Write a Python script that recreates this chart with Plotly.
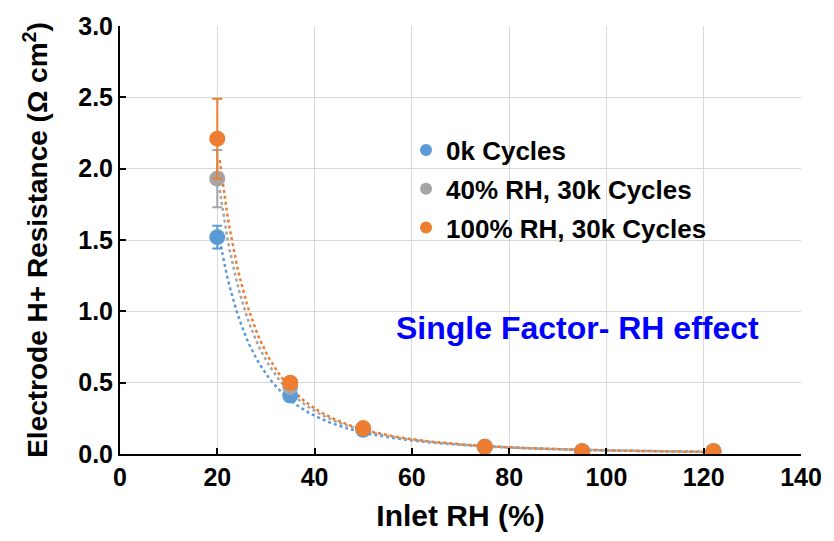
import numpy as np
import plotly.graph_objects as go

rh = [20, 35, 50, 75, 95, 122]
series_names = ["0k Cycles", "40% RH, 30k Cycles", "100% RH, 30k Cycles"]
r_0k = [1.52, 0.41, 0.17, 0.05, 0.02, 0.02]
r_40 = [1.93, 0.47, 0.18, 0.05, 0.02, 0.02]
r_100 = [2.21, 0.50, 0.18, 0.05, 0.02, 0.02]
err_0k = [0.08, 0.02, 0.01, 0.0, 0.0, 0.0]
err_40 = [0.20, 0.03, 0.01, 0.0, 0.0, 0.0]
err_100 = [0.28, 0.03, 0.01, 0.0, 0.0, 0.0]
colors = ["#5B9BD5", "#A5A5A5", "#ED7D31"]

fig = go.Figure()
font = "Liberation Sans, Arial, sans-serif"

# power-law trendlines fitted to the data
for vals, c in zip([r_0k, r_40, r_100], colors):
    x = np.array(rh, float)
    y = np.array(vals, float)
    b, lna = np.polyfit(np.log(x), np.log(y), 1)
    xs = np.linspace(x.min() + 0.5, x.max(), 200)
    ys = np.exp(lna) * xs ** b
    fig.add_trace(go.Scatter(x=xs, y=ys, mode="lines", showlegend=False,
                             line=dict(color=c, width=2.5, dash="dot"), hoverinfo="skip"))

for i, (name, vals, err, c) in enumerate(zip(series_names, [r_0k, r_40, r_100],
                                             [err_0k, err_40, err_100], colors)):
    fig.add_trace(go.Scatter(x=rh, y=vals, mode="markers", name=name, legendgroup=f"g{i}",
                             marker=dict(color=c, size=16),
                             error_y=dict(type="data", array=err, color=c, thickness=2, width=5)))

fig.add_annotation(x=94.0, y=0.88, xref="x", yref="y", text="Single Factor- RH effect",
                   showarrow=False, font=dict(family=font, size=32, color="#0000FF", weight="bold"))

tickf = dict(family=font, size=25, color="black", weight="bold")

fig.update_layout(
    width=834, height=541, margin=dict(l=120, r=26, t=20, b=87),
    plot_bgcolor="white", paper_bgcolor="white",
    font=dict(family=font, color="black"),
    legend=dict(x=0.42, y=0.765, xanchor="left", yanchor="top", bgcolor="rgba(0,0,0,0)",
                font=dict(family=font, size=26, color="black", weight="bold"),
                itemsizing="constant", tracegroupgap=2),
    xaxis=dict(range=[0, 140], dtick=20, showgrid=True, gridcolor="#D9D9D9", gridwidth=1,
               showline=True, linecolor="black", linewidth=2, ticks="inside", ticklen=6,
               tickwidth=2, tickcolor="black", zeroline=False, tickfont=tickf,
               title=dict(text="Inlet RH (%)", standoff=15,
                          font=dict(family=font, size=30, color="black", weight="bold"))),
    yaxis=dict(range=[0, 3.0], dtick=0.5, tickformat=".1f", showgrid=True, gridcolor="#D9D9D9",
               gridwidth=1, showline=True, linecolor="black", linewidth=2, ticks="inside",
               ticklen=6, tickwidth=2, tickcolor="black", zeroline=False, tickfont=tickf,
               title=dict(text="Electrode H+ Resistance (Ω cm<sup>2</sup>)", standoff=22,
                          font=dict(family=font, size=28, color="black", weight="bold"))),
)

fig.write_html("out.html")
